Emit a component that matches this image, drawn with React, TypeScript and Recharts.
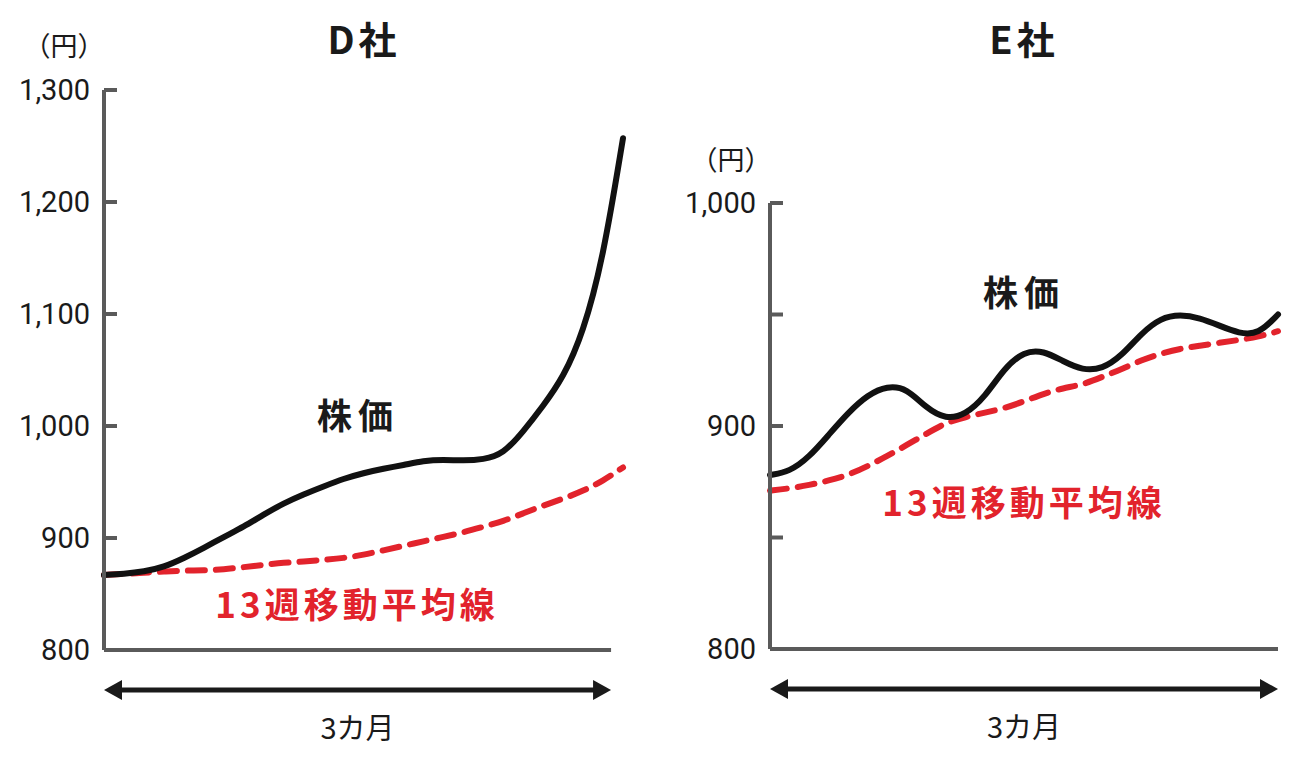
import React from "react";
import { LineChart, Line, XAxis, YAxis } from "recharts";

// x positions: half-week steps over 3 months (13 weeks)
const weeks = [0, 0.5, 1, 1.5, 2, 2.5, 3, 3.5, 4, 4.5, 5, 5.5, 6, 6.5, 7, 7.5, 8, 8.5, 9, 9.5, 10, 10.5, 11, 11.5, 12, 12.5, 13];

// D社
const dPrice = [867, 868, 870, 874, 882, 891, 901, 910, 921, 931, 939, 946, 953, 958, 962, 965, 969, 970, 969, 970, 975, 995, 1018, 1043, 1083, 1149, 1257];
const dMa = [867, 868, 869, 870, 871, 871, 872, 874, 876, 878, 879, 880.5, 882, 885, 889, 893, 897, 901, 905, 910, 915, 922, 929, 935, 942, 951, 963];
const dTicks = [800, 900, 1000, 1100, 1200, 1300];

// E社
const ePrice = [878, 879.5, 886, 896, 906, 914, 918, 917, 908, 903, 905, 913, 926, 933.5, 933.8, 929, 925, 925.5, 931.5, 941.5, 948.5, 950, 948.5, 945, 941.5, 941, 950];
const eMa = [871, 872, 873.5, 875.5, 878, 882, 886.5, 891.5, 896.5, 901.5, 904, 906, 908, 911, 914.5, 917, 918.5, 922, 925.5, 929.5, 932.5, 934.7, 936, 937.3, 938.6, 940, 942.5];
const eTicks = [800, 850, 900, 950, 1000];

const AXIS = "#5a5a5a";
const INK = "#1a1a1a";
const RED = "#e2232c";
const NUM_FONT = "'Liberation Sans Narrow', 'Roboto', sans-serif";
const JP_FONT = "'Noto Sans CJK JP', 'Noto Sans', sans-serif";

const dData = weeks.map((w, i) => ({ w, price: dPrice[i], ma: dMa[i] }));
const eData = weeks.map((w, i) => ({ w, price: ePrice[i], ma: eMa[i] }));

const fmt = (v: number) => (v % 100 === 0 ? v.toLocaleString("en-US") : "");

// bottom axis line + 3-month arrow, drawn from the x axis' own box
function ArrowAxis({ viewBox, frac }: any) {
  if (!viewBox) return null;
  const { x, y, width } = viewBox;
  const x0 = x;
  const x1 = x + width * frac;
  const ay = y + 40;
  return (
    <g>
      <line x1={x0} y1={y} x2={x1} y2={y} stroke={AXIS} strokeWidth={4} />
      <line x1={x0 + 12} y1={ay} x2={x1 - 12} y2={ay} stroke={INK} strokeWidth={5} />
      <polygon points={`${x0},${ay} ${x0 + 18},${ay - 10} ${x0 + 18},${ay + 10}`} fill={INK} />
      <polygon points={`${x1},${ay} ${x1 - 18},${ay - 10} ${x1 - 18},${ay + 10}`} fill={INK} />
      <text
        x={(x0 + x1) / 2}
        y={ay + 41}
        textAnchor="middle"
        dominantBaseline="middle"
        fontFamily={JP_FONT}
        fontSize={29}
        fill={INK}
      >
        3カ月
      </text>
    </g>
  );
}

function Panel({ data, domain, ticks, top, plotH, yWidth, right, frac }: any) {
  return (
    <LineChart
      width={650}
      height={757}
      data={data}
      margin={{ top, right, bottom: 757 - top - plotH - 80, left: 0 }}
    >
      <XAxis
        dataKey="w"
        type="number"
        domain={[0, 13]}
        tick={false}
        tickLine={false}
        axisLine={false}
        height={80}
        label={(p: any) => <ArrowAxis {...p} frac={frac} />}
      />
      <YAxis
        type="number"
        domain={domain}
        ticks={ticks}
        width={yWidth}
        tickFormatter={fmt}
        axisLine={{ stroke: AXIS, strokeWidth: 4 }}
        tickLine={{ stroke: AXIS, strokeWidth: 4 }}
        tickSize={-13}
        tickMargin={27}
        tick={{ fill: INK, fontSize: 29, fontFamily: NUM_FONT }}
      />
      <Line
        dataKey="ma"
        type="basis"
        stroke={RED}
        strokeWidth={6}
        strokeDasharray="17 11"
        strokeLinecap="round"
        dot={false}
        activeDot={false}
        isAnimationActive={false}
      />
      <Line
        dataKey="price"
        type="basis"
        stroke="#111"
        strokeWidth={6}
        strokeLinecap="round"
        dot={false}
        activeDot={false}
        isAnimationActive={false}
      />
    </LineChart>
  );
}

const txt = (x: number, y: number, size: number, color: string, bold: boolean, spacing = 0): React.CSSProperties => ({
  position: "absolute",
  left: x,
  top: y,
  transform: "translate(-50%, -50%)",
  fontFamily: JP_FONT,
  fontSize: size,
  fontWeight: bold ? 700 : 400,
  color,
  letterSpacing: spacing,
  whiteSpace: "nowrap",
  lineHeight: 1,
});

export default function App() {
  return (
    <div style={{ position: "absolute", left: 0, top: 0, width: 1300, height: 757, background: "#fff" }}>
      <div style={{ position: "absolute", left: 0, top: 0 }}>
        <Panel data={dData} domain={[800, 1300]} ticks={dTicks} top={90} plotH={560} yWidth={104} right={27} frac={0.977} />
      </div>
      <div style={{ position: "absolute", left: 650, top: 0 }}>
        <Panel data={eData} domain={[800, 1000]} ticks={eTicks} top={203} plotH={446} yWidth={120} right={22} frac={1} />
      </div>

      <div style={txt(64, 44, 27, INK, false)}>（円）</div>
      <div style={txt(364, 38, 38, INK, true, 4)}>D社</div>
      <div style={txt(358, 413, 35, INK, true, 6)}>株価</div>
      <div style={txt(357, 602, 35, RED, true, 4)}>13週移動平均線</div>

      <div style={txt(731, 158, 27, INK, false)}>（円）</div>
      <div style={txt(1024, 38, 38, INK, true, 4)}>E社</div>
      <div style={txt(1024, 290, 35, INK, true, 6)}>株価</div>
      <div style={txt(1024, 500, 35, RED, true, 4)}>13週移動平均線</div>
    </div>
  );
}
